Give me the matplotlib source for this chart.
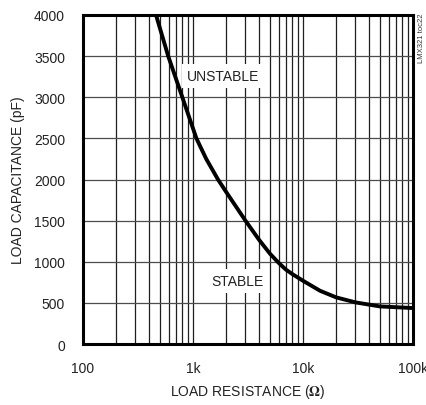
import matplotlib
matplotlib.use("Agg")
import matplotlib.pyplot as plt
from matplotlib.ticker import FixedLocator, NullFormatter, LogLocator

# Stability boundary: load resistance (ohms) vs. maximum load capacitance (pF)
load_resistance = [461, 595, 800, 1074, 1320, 1500, 1688, 2000, 3000, 4000,
                   5000, 6000, 7000, 8000, 10000, 14300, 20000, 30000, 50000, 100000]
load_capacitance = [4000, 3500, 3000, 2500, 2250, 2120, 2000, 1850, 1500, 1265,
                    1100, 988, 905, 851, 770, 648, 568, 507, 458, 438]

x_ticks = [100, 1000, 10000, 100000]
x_tick_labels = ["100", "1k", "10k", "100k"]
y_ticks = list(range(0, 4001, 500))
y_tick_labels = [str(v) for v in y_ticks]

region_labels = ["UNSTABLE", "STABLE"]
region_x = [1875, 2560]
region_y = [3258, 766]

FONT = ["Liberation Sans Narrow", "Liberation Sans", "DejaVu Sans"]
plt.rcParams["mathtext.fontset"] = "stix"

fig = plt.figure(figsize=(4.27, 4.06), dpi=100)
ax = fig.add_axes([0.1944, 0.150, 0.7728, 0.8106])

ax.set_xscale("log")
ax.set_xlim(100, 100000)
ax.set_ylim(0, 4000)

ax.xaxis.set_major_locator(FixedLocator(x_ticks))
ax.xaxis.set_minor_locator(LogLocator(base=10, subs=range(2, 10), numticks=20))
ax.xaxis.set_minor_formatter(NullFormatter())
ax.set_xticklabels(x_tick_labels)
ax.set_yticks(y_ticks)
ax.set_yticklabels(y_tick_labels)

ax.grid(True, which="both", axis="x", color="0.12", lw=0.9)
ax.grid(True, which="major", axis="y", color="0.3", lw=0.9)
ax.set_axisbelow(True)

ax.tick_params(which="both", length=0)
ax.tick_params(axis="y", pad=13, labelsize=10)
ax.tick_params(axis="x", pad=12, labelsize=10)
for lbl in ax.get_xticklabels() + ax.get_yticklabels():
    lbl.set_family(FONT)
    lbl.set_color("#222222")

for sp in ax.spines.values():
    sp.set_linewidth(2.2)
    sp.set_color("black")

ax.plot(load_resistance, load_capacitance, color="black", lw=2.8,
        solid_capstyle="butt", solid_joinstyle="round", zorder=3)

for txt, xv, yv in zip(region_labels, region_x, region_y):
    ax.text(xv, yv, txt, ha="center", va="center", fontsize=10, family=FONT,
            color="#222222", zorder=4,
            bbox=dict(boxstyle="square,pad=0.35", fc="white", ec="none"))

ax.set_xlabel(r"LOAD RESISTANCE ($\mathbf{\Omega}$)", fontsize=10, family=FONT,
              color="#222222", labelpad=5)
ax.set_ylabel("LOAD CAPACITANCE (pF)", fontsize=10, family=FONT,
              color="#222222", labelpad=6)

fig.text(0.988, 0.905, "LMX321 toc22", rotation=90, ha="center", va="center",
         fontsize=5.5, family=FONT, color="#333333")

fig.savefig("out.png", dpi=100)
